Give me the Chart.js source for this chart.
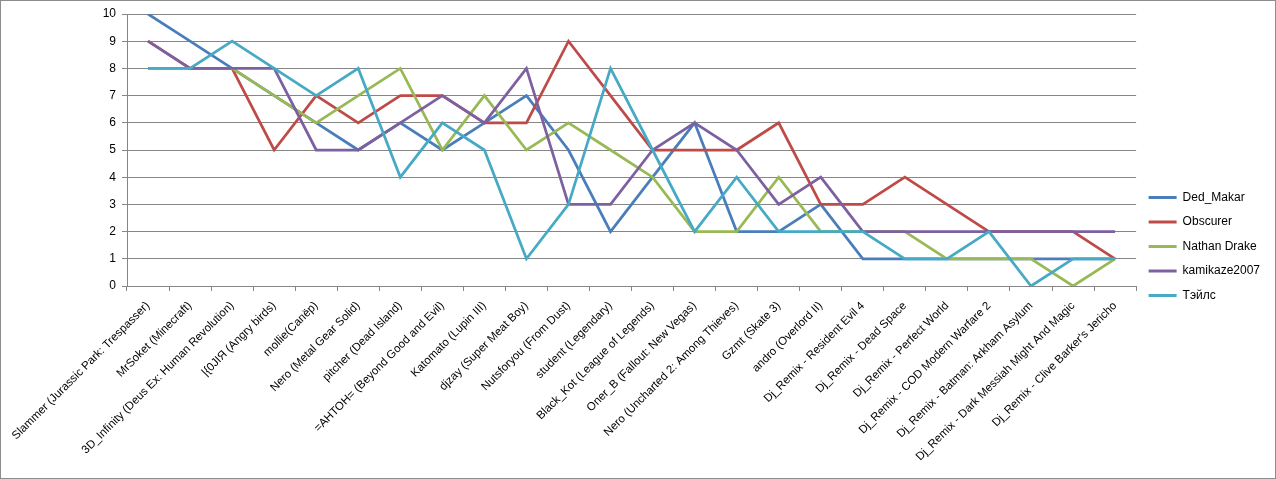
<!DOCTYPE html>
<html>
<head>
<meta charset="utf-8">
<script src="https://cdn.jsdelivr.net/npm/chart.js@4/dist/chart.umd.min.js"></script>
<style>
  html, body { margin: 0; padding: 0; background: #fff; }
  #wrap { position: relative; width: 1276px; height: 479px; }
  #frame { position: absolute; left: 0; top: 0; right: 0; bottom: 0; border: 1px solid #8c8c8c; pointer-events: none; }
</style>
</head>
<body>
<div id="wrap">
  <canvas id="chart" width="1276" height="479"></canvas>
  <div id="frame"></div>
</div>
<script>
const categories = [
  'Slammer (Jurassic Park: Trespasser)',
  'MrSoket (Minecraft)',
  '3D_Infinity (Deus Ex: Human Revolution)',
  '|{0JIЯ (Angry birds)',
  'mollie(Сапёр)',
  'Nero (Metal Gear Solid)',
  'pitcher (Dead Island)',
  '=АНТОН= (Beyond Good and Evil)',
  'Katomato (Lupin III)',
  'djzay (Super Meat Boy)',
  'Nutsforyou (From Dust)',
  'student (Legendary)',
  'Black_Kot (League of Legends)',
  'Oner_B (Fallout: New Vegas)',
  'Nero (Uncharted 2: Among Thieves)',
  'Gzmt (Skate 3)',
  'andro (Overlord II)',
  'Dj_Remix - Resident Evil 4',
  'Dj_Remix - Dead Space',
  'Dj_Remix - Perfect World',
  'Dj_Remix - COD Modern Warfare 2',
  'Dj_Remix - Batman: Arkham Asylum',
  'Dj_Remix - Dark Messiah Might And Magic',
  "Dj_Remix - Clive Barker's Jericho",
];

const dedMakar    = [10, 9, 8, 7, 6, 5, 6, 5, 6, 7, 5, 2, 4, 6, 2, 2, 3, 1, 1, 1, 1, 1, 1, 1];
const obscurer    = [9, 8, 8, 5, 7, 6, 7, 7, 6, 6, 9, 7, 5, 5, 5, 6, 3, 3, 4, 3, 2, 2, 2, 1];
const nathanDrake = [8, 8, 8, 7, 6, 7, 8, 5, 7, 5, 6, 5, 4, 2, 2, 4, 2, 2, 2, 1, 1, 1, 0, 1];
const kamikaze    = [9, 8, 8, 8, 5, 5, 6, 7, 6, 8, 3, 3, 5, 6, 5, 3, 4, 2, 2, 2, 2, 2, 2, 2];
const tails       = [8, 8, 9, 8, 7, 8, 4, 6, 5, 1, 3, 8, 5, 2, 4, 2, 2, 2, 1, 1, 2, 0, 1, 1];

const seriesNames = ['Ded_Makar', 'Obscurer', 'Nathan Drake', 'kamikaze2007', 'Тэйлс'];
const seriesData = [dedMakar, obscurer, nathanDrake, kamikaze, tails];
const colors = ['#4a7ebb', '#be4b48', '#98b954', '#7d60a0', '#46aac5'];

const GRID = '#868686';
const FONT = 'Liberation Sans, Arial, sans-serif';

const datasets = seriesNames.map((name, i) => ({
  label: name,
  data: seriesData[i],
  borderColor: colors[i],
  backgroundColor: colors[i],
  borderWidth: 2.75,
  tension: 0,
  pointRadius: 0,
  pointHoverRadius: 0,
  fill: false,
  order: seriesNames.length - i,
}));

new Chart(document.getElementById('chart'), {
  type: 'line',
  data: { labels: categories, datasets },
  options: {
    responsive: false,
    animation: false,
    events: [],
    layout: { padding: { top: 14, left: 0, right: 6, bottom: 0 } },
    scales: {
      x: {
        offset: true,
        grid: { offset: true, drawOnChartArea: false, drawTicks: true, tickLength: 5, color: GRID },
        border: { color: GRID },
        ticks: {
          autoSkip: false,
          maxRotation: 45,
          minRotation: 45,
          padding: 8,
          color: '#000',
          font: { family: FONT, size: 11.5 },
        },
        afterFit(scale) { scale.height = 193; },
      },
      y: {
        min: 0,
        max: 10,
        grid: { color: GRID, tickLength: 5 },
        border: { color: GRID },
        ticks: { stepSize: 1, padding: 6, color: '#000', font: { family: FONT, size: 12 } },
        afterFit(scale) { scale.width = 127; },
      },
    },
    plugins: {
      tooltip: { enabled: false },
      legend: {
        position: 'right',
        align: 'center',
        labels: {
          boxWidth: 28,
          boxHeight: 3,
          padding: 12.5,
          color: '#000',
          font: { family: FONT, size: 12 },
          generateLabels(chart) {
            return chart.data.datasets.map((ds, i) => ({
              text: ds.label,
              fillStyle: ds.borderColor,
              strokeStyle: ds.borderColor,
              lineWidth: 0,
              hidden: false,
              datasetIndex: i,
            }));
          },
        },
      },
    },
  },
});
</script>
</body>
</html>
